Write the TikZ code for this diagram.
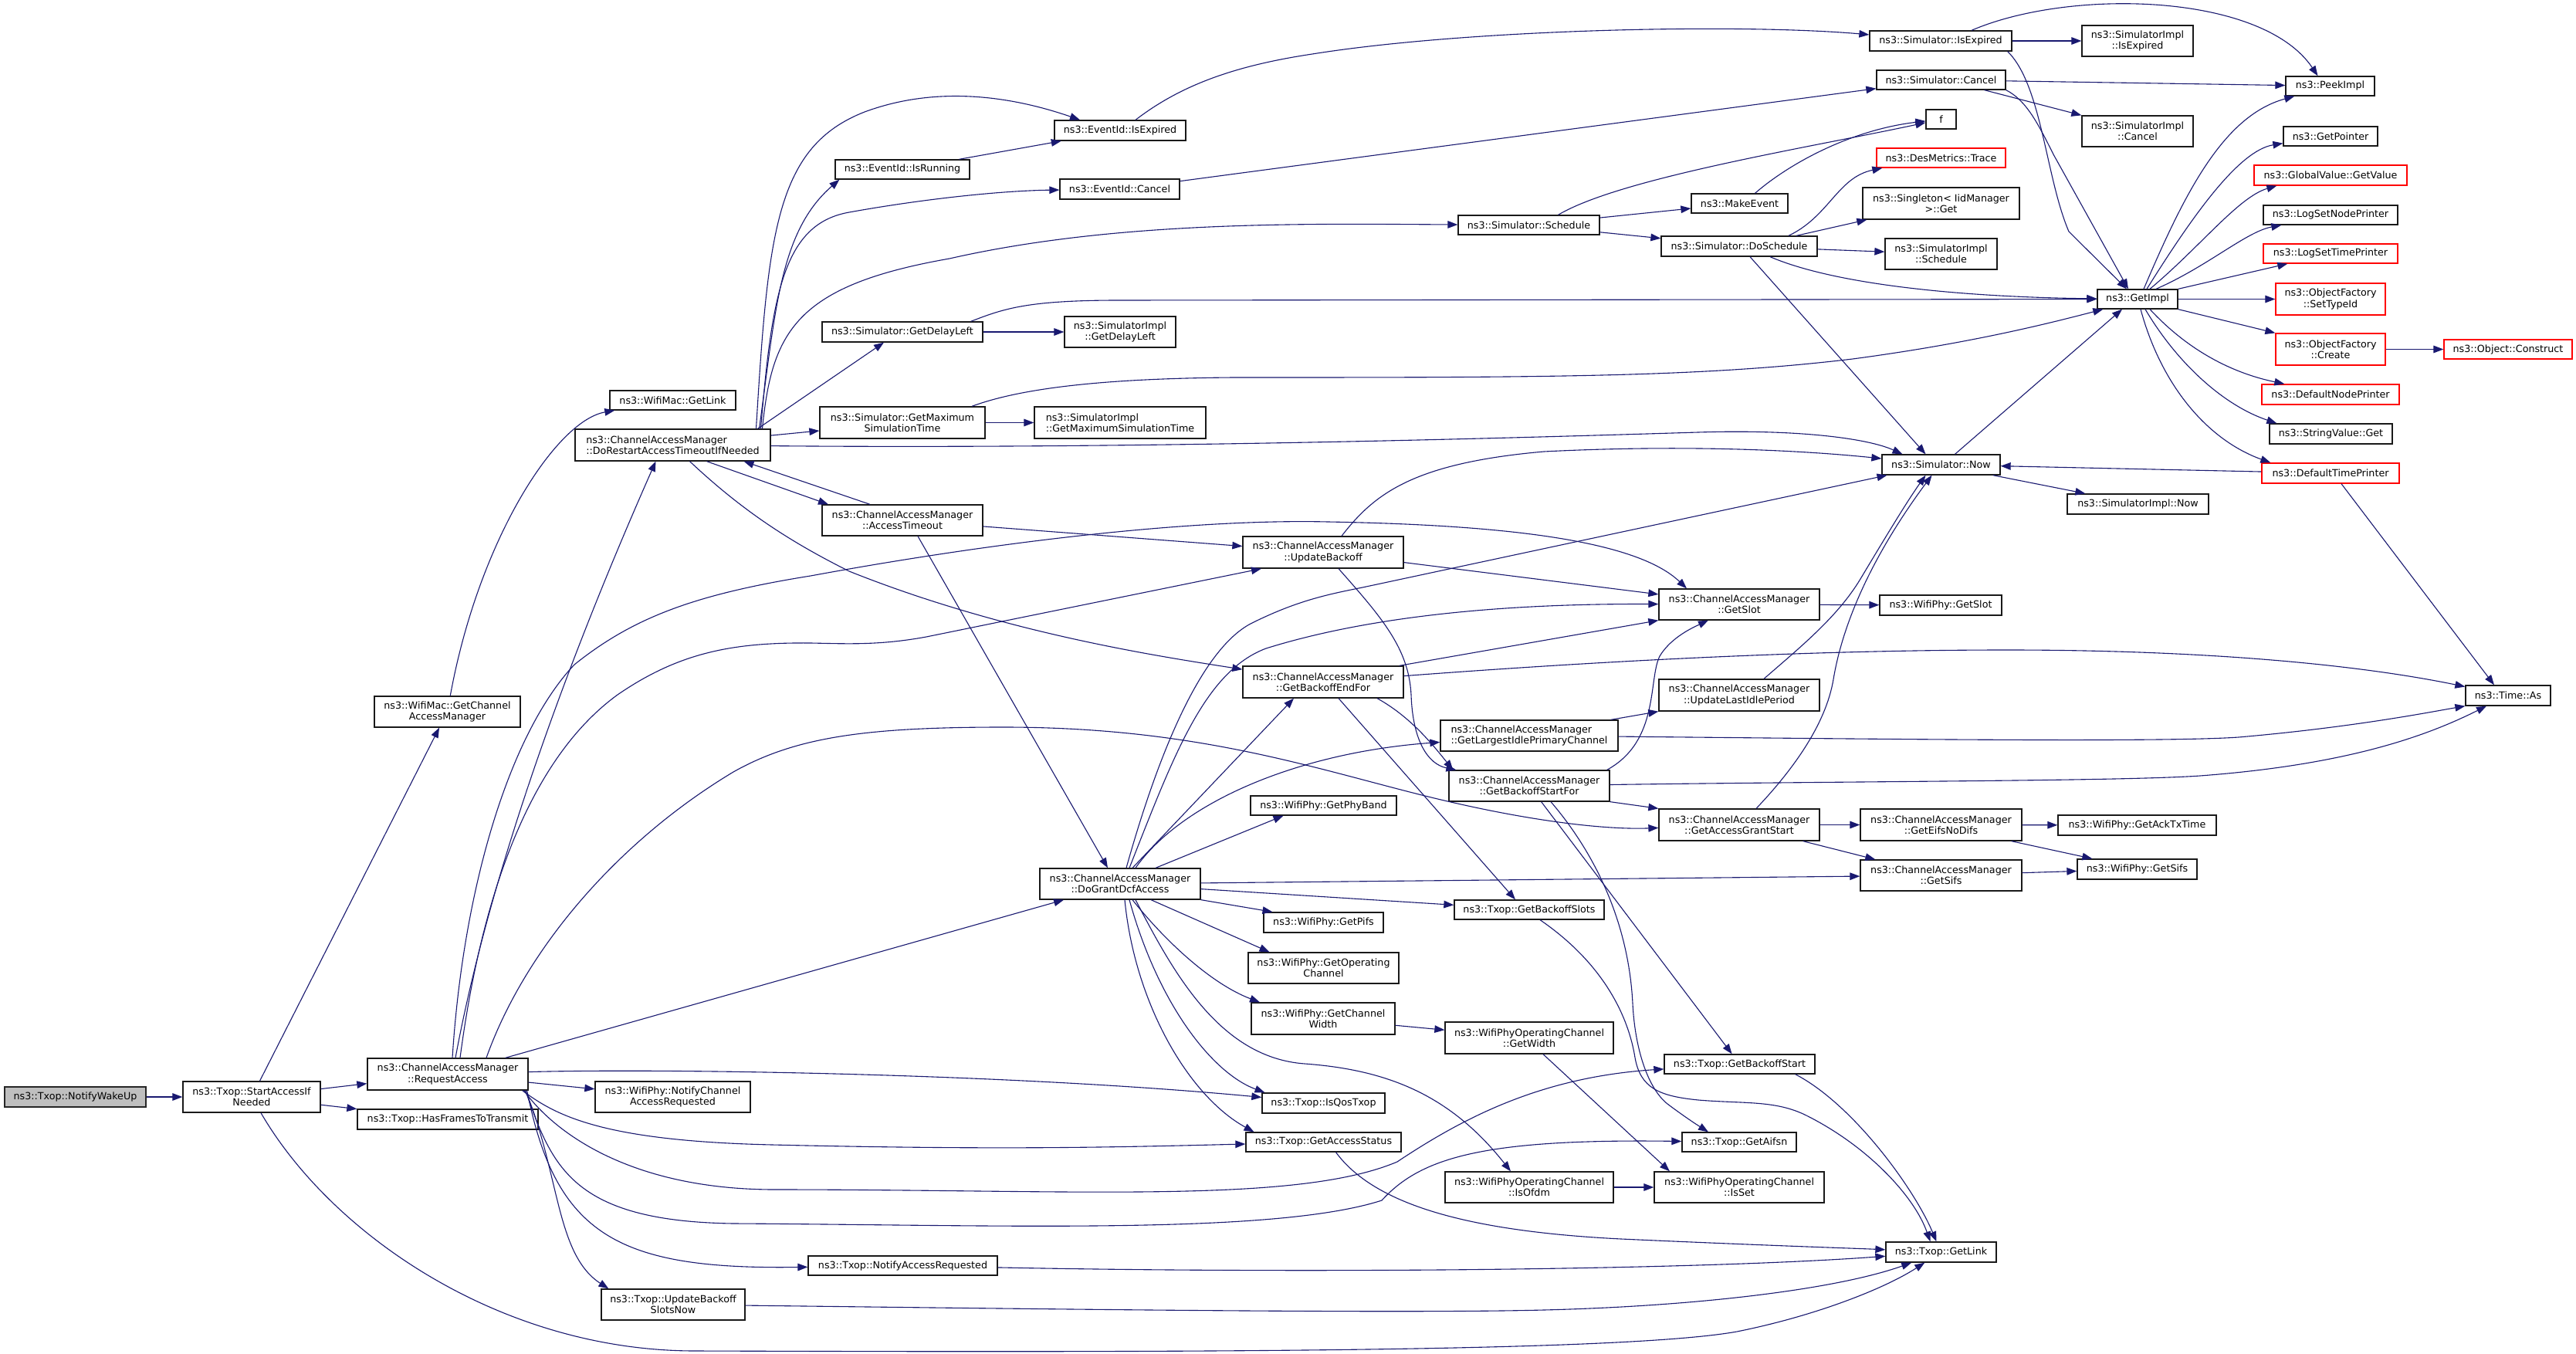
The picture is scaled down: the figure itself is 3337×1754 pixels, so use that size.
\documentclass[tikz,border=0pt]{standalone}
\usepackage{fontspec}
\setmainfont{DejaVu Sans}
\usetikzlibrary{arrows.meta}
\definecolor{edgec}{HTML}{191970}
\tikzset{
 nbox/.style={draw=black!90, line width=0.65pt, fill=white, inner sep=0pt, align=center,
   font=\fontsize{6.35pt}{7.15pt}\selectfont},
 redbox/.style={draw=red},
 greybox/.style={fill=black!25, draw=black!85},
 lft/.style={align=left},
 edg/.style={draw=edgec, line width=0.55pt, -{Triangle[length=6.5pt,width=4.8pt]}},
}
\newcommand\bx[7][]{%
 \pgfmathsetmacro\bxw{(#5-#3)*0.5}%
 \pgfmathsetmacro\bxh{(#6-#4)*0.5}%
 \pgfmathsetmacro\bxx{(#3+#5)/2}%
 \pgfmathsetmacro\bxy{(#4+#6)/2}%
 \node[nbox,#1,minimum width=\bxw pt,minimum height=\bxh pt] (#2) at (\bxx,\bxy) {#7};}
\begin{document}
\begin{tikzpicture}[x=0.5pt,y=-0.5pt]
\fill[white] (0,0) rectangle (3337,1754);
\useasboundingbox (0,0) rectangle (3337,1754);
% nodes
\bx[greybox]{wake}{6}{1408}{189}{1434}{ns3::Txop::NotifyWakeUp}
\bx{sai}{237}{1401}{415}{1441}{ns3::Txop::StartAccessIf\\Needed}
\bx{req}{476}{1371}{684}{1412}{ns3::ChannelAccessManager\\::RequestAccess}
\bx{hft}{463}{1437}{697}{1463}{ns3::Txop::HasFramesToTransmit}
\bx{gcam}{485}{902}{674}{942}{ns3::WifiMac::GetChannel\\AccessManager}
\bx{wgl}{790}{506}{953}{531}{ns3::WifiMac::GetLink}
\bx[lft]{dra}{745}{556}{998}{597}{ns3::ChannelAccessManager\\::DoRestartAccessTimeoutIfNeeded}
\bx{eie}{1366}{156}{1536}{182}{ns3::EventId::IsExpired}
\bx{eir}{1082}{207}{1256}{232}{ns3::EventId::IsRunning}
\bx{eic}{1373}{232}{1528}{258}{ns3::EventId::Cancel}
\bx{ssch}{1889}{279}{2072}{304}{ns3::Simulator::Schedule}
\bx{sgdl}{1065}{417}{1273}{443}{ns3::Simulator::GetDelayLeft}
\bx{sigdl}{1379}{410}{1523}{450}{ns3::SimulatorImpl\\::GetDelayLeft}
\bx{sgmst}{1062}{527}{1276}{568}{ns3::Simulator::GetMaximum\\SimulationTime}
\bx[lft]{sigmst}{1340}{527}{1562}{568}{ns3::SimulatorImpl\\::GetMaximumSimulationTime}
\bx{sie}{2422}{40}{2606}{66}{ns3::Simulator::IsExpired}
\bx{siie}{2697}{33}{2841}{73}{ns3::SimulatorImpl\\::IsExpired}
\bx{sc}{2431}{91}{2598}{116}{ns3::Simulator::Cancel}
\bx{peek}{2961}{99}{3076}{124}{ns3::PeekImpl}
\bx{sic}{2697}{150}{2841}{190}{ns3::SimulatorImpl\\::Cancel}
\bx{f}{2495}{142}{2534}{167}{f}
\bx{gptr}{2958}{164}{3080}{189}{ns3::GetPointer}
\bx[redbox]{dmt}{2431}{192}{2598}{217}{ns3::DesMetrics::Trace}
\bx[redbox]{ggv}{2920}{214}{3118}{240}{ns3::GlobalValue::GetValue}
\bx{mke}{2191}{251}{2316}{276}{ns3::MakeEvent}
\bx{sing}{2413}{243}{2616}{284}{ns3::Singleton< IidManager\\ >::Get}
\bx{lsnp}{2932}{266}{3106}{291}{ns3::LogSetNodePrinter}
\bx{sds}{2152}{306}{2354}{332}{ns3::Simulator::DoSchedule}
\bx{sis}{2442}{309}{2587}{349}{ns3::SimulatorImpl\\::Schedule}
\bx[redbox]{lstp}{2932}{316}{3106}{341}{ns3::LogSetTimePrinter}
\bx{gimpl}{2717}{375}{2821}{400}{ns3::GetImpl}
\bx[redbox]{ofst}{2948}{367}{3090}{408}{ns3::ObjectFactory\\::SetTypeId}
\bx[redbox]{ofc}{2948}{432}{3090}{473}{ns3::ObjectFactory\\::Create}
\bx[redbox]{oc}{3166}{440}{3332}{465}{ns3::Object::Construct}
\bx[redbox]{dnp}{2930}{498}{3108}{524}{ns3::DefaultNodePrinter}
\bx{svg}{2940}{549}{3099}{575}{ns3::StringValue::Get}
\bx{snow}{2438}{589}{2591}{615}{ns3::Simulator::Now}
\bx[redbox]{dtp}{2930}{600}{3108}{626}{ns3::DefaultTimePrinter}
\bx{sinow}{2678}{640}{2861}{666}{ns3::SimulatorImpl::Now}
\bx{at}{1065}{654}{1273}{694}{ns3::ChannelAccessManager\\::AccessTimeout}
\bx{ub}{1610}{695}{1818}{736}{ns3::ChannelAccessManager\\::UpdateBackoff}
\bx{gslot}{2149}{763}{2357}{803}{ns3::ChannelAccessManager\\::GetSlot}
\bx{wgslot}{2435}{771}{2593}{797}{ns3::WifiPhy::GetSlot}
\bx{gbef}{1610}{863}{1818}{904}{ns3::ChannelAccessManager\\::GetBackoffEndFor}
\bx{ulip}{2149}{880}{2357}{921}{ns3::ChannelAccessManager\\::UpdateLastIdlePeriod}
\bx{tas}{3194}{888}{3304}{914}{ns3::Time::As}
\bx[lft]{glipc}{1866}{933}{2096}{973}{ns3::ChannelAccessManager\\::GetLargestIdlePrimaryChannel}
\bx{gbsf}{1877}{998}{2085}{1038}{ns3::ChannelAccessManager\\::GetBackoffStartFor}
\bx{gpb}{1620}{1031}{1809}{1056}{ns3::WifiPhy::GetPhyBand}
\bx{gags}{2149}{1048}{2357}{1089}{ns3::ChannelAccessManager\\::GetAccessGrantStart}
\bx{gend}{2410}{1048}{2619}{1089}{ns3::ChannelAccessManager\\::GetEifsNoDifs}
\bx{gatt}{2666}{1056}{2871}{1082}{ns3::WifiPhy::GetAckTxTime}
\bx{dgda}{1347}{1125}{1555}{1165}{ns3::ChannelAccessManager\\::DoGrantDcfAccess}
\bx{gbs}{1884}{1166}{2078}{1191}{ns3::Txop::GetBackoffSlots}
\bx{gsifs}{2410}{1114}{2619}{1154}{ns3::ChannelAccessManager\\::GetSifs}
\bx{wsifs}{2691}{1113}{2846}{1139}{ns3::WifiPhy::GetSifs}
\bx{pifs}{1637}{1182}{1792}{1208}{ns3::WifiPhy::GetPifs}
\bx{goc}{1617}{1234}{1812}{1274}{ns3::WifiPhy::GetOperating\\Channel}
\bx{gcw}{1621}{1299}{1807}{1340}{ns3::WifiPhy::GetChannel\\Width}
\bx{gw}{1872}{1324}{2090}{1365}{ns3::WifiPhyOperatingChannel\\::GetWidth}
\bx{tgbst}{2156}{1366}{2351}{1391}{ns3::Txop::GetBackoffStart}
\bx{iqt}{1635}{1416}{1794}{1442}{ns3::Txop::IsQosTxop}
\bx{gas}{1614}{1467}{1815}{1492}{ns3::Txop::GetAccessStatus}
\bx{aifsn}{2179}{1467}{2327}{1492}{ns3::Txop::GetAifsn}
\bx{ofdm}{1872}{1518}{2090}{1558}{ns3::WifiPhyOperatingChannel\\::IsOfdm}
\bx{isset}{2143}{1518}{2363}{1558}{ns3::WifiPhyOperatingChannel\\::IsSet}
\bx{nar}{1047}{1627}{1292}{1652}{ns3::Txop::NotifyAccessRequested}
\bx{tgl}{2443}{1609}{2586}{1635}{ns3::Txop::GetLink}
\bx{nca}{771}{1401}{972}{1441}{ns3::WifiPhy::NotifyChannel\\AccessRequested}
\bx{ubsn}{779}{1670}{965}{1710}{ns3::Txop::UpdateBackoff\\SlotsNow}
% edges: left part
\draw[edg] (wake) -- (sai);
\draw[edg] (sai) -- (req);
\draw[edg] (sai) -- (hft);
\draw[edg] (sai) -- (gcam);
\draw[edg] (sai) .. controls (430,1600) and (650,1750) .. (900,1750) .. controls (1500,1752) and (2100,1752) .. (2250,1725) .. controls (2350,1705) and (2440,1670) .. (tgl);
\draw[edg] (gcam) .. controls (620,700) and (720,545) .. (wgl);
\draw[edg] ([xshift=5pt]req.north) .. controls (640,1100) and (760,800) .. ([xshift=-11pt]dra.south);
\draw[edg] ([xshift=3pt]req.north) .. controls (600,1150) and (660,950) .. (744,861) .. controls (820,800) and (900,770) .. (1050,746) .. controls (1300,700) and (1550,672) .. (1720,676) .. controls (1950,680) and (2120,700) .. ([xshift=-34pt]gslot.north);
\draw[edg] ([xshift=8pt]req.north) .. controls (625,1150) and (690,980) .. (800,900) .. controls (880,845) and (950,832) .. (1050,833) .. controls (1100,834) and (1140,836) .. (1200,825) -- ([xshift=-40pt]ub.south);
\draw[edg] ([xshift=25pt]req.north) .. controls (680,1230) and (800,1090) .. (950,1000) .. controls (1030,955) and (1120,942) .. (1300,942) .. controls (1550,942) and (1700,995) .. (1850,1032) .. controls (1980,1064) and (2080,1075) .. (gags);
\draw[edg] (req) -- (dgda);
\draw[edg] (req) -- (nca);
\draw[edg] (req) .. controls (850,1384) and (1300,1390) .. (iqt);
\draw[edg] ([xshift=-4pt]req.south east) .. controls (720,1445) and (780,1478) .. (1000,1483) .. controls (1300,1490) and (1450,1486) .. (gas);
\draw[edg] ([xshift=-3pt]req.south east) .. controls (720,1470) and (820,1540) .. (1000,1541) .. controls (1400,1541) and (1680,1560) .. (1810,1505) .. controls (1900,1445) and (2000,1395) .. (tgbst);
\draw[edg] ([xshift=-2pt]req.south east) .. controls (715,1510) and (740,1582) .. (950,1585) .. controls (1300,1587) and (1650,1600) .. (1790,1555) .. controls (1840,1500) and (1920,1475) .. (aifsn);
\draw[edg] ([xshift=-1pt]req.south east) .. controls (720,1600) and (800,1645) .. (nar);
\draw[edg] ([xshift=-2pt]req.south east) .. controls (725,1520) and (720,1625) .. ([xshift=5pt]ubsn.north west);
\draw[edg] (ubsn) .. controls (1300,1695) and (1800,1702) .. (2000,1697) .. controls (2200,1692) and (2380,1670) .. (tgl);
\draw[edg] (nar) .. controls (1700,1650) and (2200,1645) .. (tgl);
% DoRestartAccessTimeoutIfNeeded
\draw[edg] ([xshift=22pt]dra.south) -- ([xshift=-48pt]at.north);
\draw[edg] ([xshift=-21pt]at.north) -- ([xshift=46pt]dra.south);
\draw[edg] ([xshift=11pt]dra.south) .. controls (960,660) and (1020,700) .. (1100,740) .. controls (1300,820) and (1500,850) .. (gbef);
\draw[edg] (dra) .. controls (1500,582) and (2000,566) .. (2200,560) .. controls (2330,556) and (2420,568) .. ([xshift=-25pt]snow.north);
\draw[edg] (dra) -- (sgmst);
\draw[edg] ([xshift=55pt]dra.north) -- ([xshift=-12pt]sgdl.south);
\draw[edg] ([xshift=58pt]dra.north) .. controls (1000,430) and (1030,370) .. (1230,335) .. controls (1450,285) and (1700,290) .. (ssch);
\draw[edg] ([xshift=57pt]dra.north) .. controls (1000,380) and (1015,290) .. (1100,275) .. controls (1200,257) and (1300,247) .. (eic);
\draw[edg] ([xshift=56pt]dra.north) .. controls (1005,400) and (1010,300) .. ([xshift=3pt]eir.south west);
\draw[edg] ([xshift=54pt]dra.north) .. controls (995,300) and (1005,190) .. (1120,145) .. controls (1220,108) and (1320,128) .. ([xshift=-26pt]eie.north);
\draw[edg] (eir) -- (eie);
\draw[edg] ([xshift=10pt]eie.north) .. controls (1530,110) and (1600,85) .. (1700,70) .. controls (1900,38) and (2250,30) .. (sie);
\draw[edg] (eic) -- (sc);
\draw[edg] ([xshift=19pt]ssch.north) .. controls (2100,230) and (2350,190) .. (f);
\draw[edg] (ssch) -- (mke);
\draw[edg] (ssch) -- (sds);
\draw[edg] ([xshift=10pt]mke.north) .. controls (2320,210) and (2400,168) .. (f);
\draw[edg] (sgdl) -- (sigdl);
\draw[edg] ([xshift=-8pt]sgdl.north east) .. controls (1300,400) and (1330,389) .. (1450,389) -- (gimpl);
\draw[edg] (sgmst) -- (sigmst);
\draw[edg] ([xshift=45pt]sgmst.north) .. controls (1330,500) and (1450,490) .. (1600,489) .. controls (2000,489) and (2200,489) .. (2400,465) .. controls (2550,445) and (2650,420) .. ([xshift=4pt]gimpl.south west);
% simulator part
\draw[edg] (sie) -- (siie);
\draw[edg] ([xshift=20pt]sie.north) .. controls (2680,-15) and (2930,-10) .. ([xshift=-8pt]peek.north);
\draw[edg] ([xshift=-3pt]sie.south east) .. controls (2645,110) and (2650,230) .. (2680,300) -- ([xshift=-7pt]gimpl.north);
\draw[edg] (sc) -- (peek);
\draw[edg] ([xshift=28pt]sc.south) -- (sic.north west);
\draw[edg] (sc.south east) .. controls (2625,130) and (2640,160) .. (2660,200) -- ([xshift=-6pt]gimpl.north);
\draw[edg] ([xshift=32pt]sds.north) .. controls (2370,280) and (2380,230) .. ([xshift=4pt]dmt.south west);
\draw[edg] ([xshift=37pt]sds.north) -- ([xshift=3pt]sing.south west);
\draw[edg] (sds) -- (sis);
\draw[edg] ([xshift=20pt]sds.south) .. controls (2380,370) and (2550,385) .. (gimpl);
\draw[edg] ([xshift=7pt]sds.south) -- ([xshift=-10pt]snow.north);
\draw[edg] ([xshift=9pt]snow.north) -- ([xshift=-10pt]gimpl.south);
\draw[edg] ([xshift=-5pt]snow.south east) -- ([xshift=12pt]sinow.north west);
\draw[edg] (dtp) -- (snow);
\draw[edg] ([xshift=7pt]dtp.south) -- ([xshift=-9pt]tas.north);
\draw[edg] ([xshift=4pt]gimpl.north) .. controls (2830,250) and (2880,150) .. ([xshift=6pt]peek.south west);
\draw[edg] ([xshift=6pt]gimpl.north) .. controls (2840,280) and (2900,195) .. ([yshift=2pt]gptr.south west);
\draw[edg] ([xshift=8pt]gimpl.north) .. controls (2850,320) and (2900,255) .. ([xshift=15pt]ggv.south west);
\draw[edg] ([xshift=12pt]gimpl.north) .. controls (2860,345) and (2910,300) .. ([xshift=12pt]lsnp.south west);
\draw[edg] (gimpl.north east) -- ([xshift=16pt]lstp.south west);
\draw[edg] (gimpl) -- (ofst);
\draw[edg] (gimpl.south east) -- (ofc.north west);
\draw[edg] ([xshift=8pt]gimpl.south) .. controls (2840,460) and (2900,485) .. ([xshift=15pt]dnp.north west);
\draw[edg] ([xshift=5pt]gimpl.south) .. controls (2820,470) and (2880,525) .. ([xshift=5pt]svg.north west);
\draw[edg] ([xshift=2pt]gimpl.south) .. controls (2800,500) and (2860,570) .. ([xshift=6pt]dtp.north west);
\draw[edg] (ofc) -- (oc);
% access timeout / backoff
\draw[edg] ([xshift=10pt]at.south) -- ([xshift=-8pt]dgda.north);
\draw[edg] (at) -- (ub);
\draw[edg] (ub) -- (gslot);
\draw[edg] ([xshift=12pt]ub.north) .. controls (1780,640) and (1830,600) .. (2000,585) .. controls (2200,575) and (2350,585) .. (snow);
\draw[edg] ([xshift=10pt]ub.south) .. controls (1790,800) and (1825,840) .. (1828,900) .. controls (1830,960) and (1850,990) .. ([xshift=5pt]gbsf.north west);
\draw[edg] (gslot) -- (wgslot);
\draw[edg] ([xshift=-3pt]gbef.north east) -- (gslot.south west);
\draw[edg] (gbef) .. controls (2000,862) and (2300,842) .. (2600,842) .. controls (2850,842) and (3050,860) .. (tas);
\draw[edg] ([xshift=35pt]gbef.south) .. controls (1830,930) and (1860,970) .. ([xshift=3pt]gbsf.north west);
\draw[edg] ([xshift=10pt]gbef.south) -- ([xshift=-9pt]gbs.north);
\draw[edg] ([xshift=-5pt]glipc.north east) -- (ulip.south west);
\draw[edg] (glipc) .. controls (2400,957) and (2800,962) .. (2900,955) .. controls (3050,942) and (3150,922) .. (tas.south west);
\draw[edg] (gbsf) .. controls (2400,1012) and (2750,1012) .. (2850,1005) .. controls (3050,990) and (3150,950) .. ([xshift=-14pt]tas.south);
\draw[edg] (gbsf.south east) -- (gags.north west);
\draw[edg] ([xshift=-2pt]gbsf.north east) .. controls (2150,960) and (2135,880) .. (2150,850) .. controls (2165,825) and (2195,812) .. ([xshift=-20pt]gslot.south);
\draw[edg] (gbsf) -- (tgbst);
\draw[edg] ([xshift=14pt]gbsf.south) .. controls (2070,1110) and (2110,1200) .. (2115,1300) .. controls (2118,1360) and (2135,1410) .. (2160,1430) .. controls (2180,1445) and (2195,1455) .. ([xshift=-20pt]aifsn.north);
\draw[edg] (gags) -- (gend);
\draw[edg] ([xshift=-11pt]gags.south east) -- ([xshift=10pt]gsifs.north west);
\draw[edg] ([xshift=11pt]gags.north) .. controls (2320,1000) and (2365,940) .. (2375,880) .. controls (2390,790) and (2440,700) .. ([xshift=-6pt]snow.south);
\draw[edg] ([xshift=16pt]ulip.north) .. controls (2330,840) and (2380,800) .. (2410,750) .. controls (2440,700) and (2470,650) .. ([xshift=-10pt]snow.south);
\draw[edg] (gend) -- (gatt);
\draw[edg] ([xshift=-7pt]gend.south east) -- ([xshift=10pt]wsifs.north west);
\draw[edg] (gsifs) -- (wsifs);
% DoGrantDcfAccess
\draw[edg] ([xshift=10pt]dgda.south) .. controls (1520,1260) and (1580,1370) .. (1690,1378) .. controls (1800,1386) and (1880,1420) .. ([xshift=-12pt]ofdm.north);
\draw[edg] ([xshift=3pt]dgda.south) .. controls (1470,1300) and (1540,1420) .. ([xshift=-45pt]gas.north);
\draw[edg] ([xshift=6pt]dgda.south) .. controls (1500,1300) and (1570,1390) .. ([xshift=-38pt]iqt.north);
\draw[edg] ([xshift=8pt]dgda.south) .. controls (1510,1220) and (1570,1275) .. ([xshift=-41pt]gcw.north);
\draw[edg] ([xshift=20pt]dgda.south) -- ([xshift=-35pt]goc.north);
\draw[edg] (dgda.south east) -- ([xshift=-33pt]pifs.north);
\draw[edg] (dgda) -- (gbs);
\draw[edg] (dgda) -- (gsifs);
\draw[edg] ([xshift=23pt]dgda.north) -- ([xshift=-26pt]gpb.south);
\draw[edg] ([xshift=10pt]dgda.north) .. controls (1530,1040) and (1680,975) .. (glipc);
\draw[edg] ([xshift=8pt]dgda.north) -- ([xshift=-19pt]gbef.south);
\draw[edg] ([xshift=6pt]dgda.north) .. controls (1520,980) and (1560,870) .. (1640,840) .. controls (1800,790) and (2000,782) .. (gslot);
\draw[edg] ([xshift=4pt]dgda.north) .. controls (1505,960) and (1560,840) .. (1620,808) .. controls (1680,778) and (1720,770) .. (1765,761) -- ([xshift=-35pt]snow.south);
\draw[edg] (gcw) -- (gw);
\draw[edg] ([xshift=9pt]gw.south) -- ([xshift=-45pt]isset.north);
\draw[edg] (ofdm) -- (isset);
% Txop::GetLink callers
\draw[edg] ([xshift=8pt]gas.south) .. controls (1780,1560) and (1900,1595) .. (2100,1605) .. controls (2300,1614) and (2400,1617) .. (tgl);
\draw[edg] ([xshift=7pt]gbs.south) .. controls (2080,1250) and (2110,1320) .. (2118,1370) .. controls (2125,1410) and (2150,1420) .. (2200,1425) .. controls (2260,1430) and (2300,1425) .. (2340,1445) .. controls (2420,1485) and (2480,1550) .. ([xshift=-7pt]tgl.north);
\draw[edg] ([xshift=-13pt]tgbst.south east) .. controls (2400,1430) and (2480,1540) .. ([xshift=-3pt]tgl.north);
\end{tikzpicture}
\end{document}
